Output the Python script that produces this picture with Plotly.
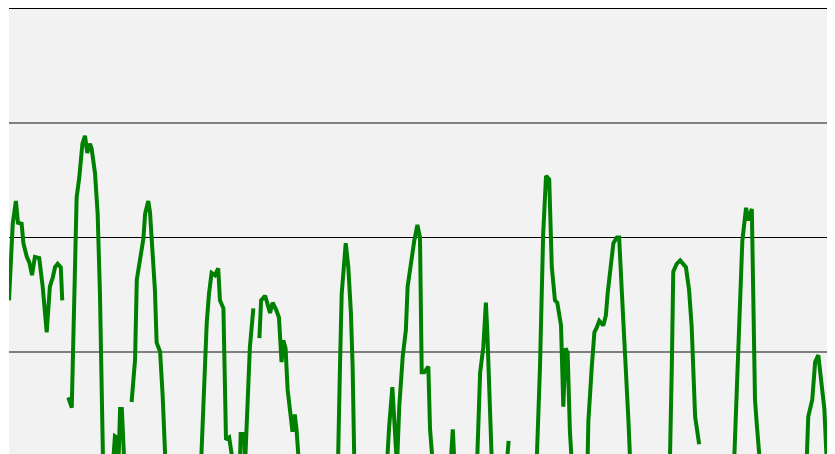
import plotly.graph_objects as go

# hours (x) and values (y) for each continuous run of the series
hours_1 = [0.0, 1.3, 2.4, 3.1, 4.4, 5.0, 6.2, 7.1, 8.0, 9.0, 10.5, 11.7, 13.1, 14.2, 15.2, 16.0, 16.9, 18.0, 18.5]
values_1 = [14.5, 21.2, 23.2, 21.3, 21.2, 19.5, 18.3, 17.8, 16.7, 18.3, 18.2, 15.7, 11.7, 15.7, 16.5, 17.4, 17.7, 17.4, 14.5]

hours_2 = [20.6, 21.8, 23.5, 24.4, 25.5, 26.4, 27.2, 28.1, 28.7, 29.9, 30.8, 31.6, 32.7, 36.1, 36.8, 37.4, 38.0, 38.6, 39.2, 40.1]
values_2 = [6.0, 5.1, 23.5, 25.2, 28.2, 28.9, 27.4, 28.2, 27.8, 25.6, 22.1, 15.1, 0, 0, 2.6, 2.5, 0, 5.0, 5.0, 0]

hours_3 = [42.6, 43.8, 44.4, 45.5, 46.7, 47.3, 48.4, 49.0, 49.9, 50.7, 51.3, 52.5, 53.4, 54.4, 66.7, 67.8,
           68.7, 69.5, 70.4, 71.6, 72.7, 73.3, 74.5, 75.4, 76.5, 78.0, 80.2, 80.5, 81.7, 82.0, 83.7, 84.9]
values_3 = [5.6, 9.3, 16.3, 18.3, 19.9, 22.1, 23.2, 22.2, 18.6, 15.4, 10.8, 10.0, 6.1, 0, 0, 7.6,
            12.5, 15.1, 16.9, 16.7, 17.3, 14.5, 13.8, 2.3, 2.5, 0, 0, 2.8, 2.8, 0, 10.4, 13.8]

hours_4 = [87.0, 87.6, 89.0, 90.7, 91.6, 92.8, 93.8, 94.7, 95.3, 96.1, 96.8, 97.5, 98.5, 99.3, 99.9, 100.8,
           114.3, 115.0, 115.6, 117.0, 117.9, 118.8, 119.4, 120.0, 131.3, 132.1, 133.2, 134.8, 135.6, 136.8,
           137.9, 138.5, 139.7, 140.8, 141.9, 142.8, 143.4, 144.3, 145.7, 146.3, 147.3, 153.4, 154.2, 154.8,
           162.6, 163.7, 164.8, 165.7, 166.2, 166.9, 167.8, 172.9, 173.6]
values_4 = [11.2, 14.5, 14.9, 13.4, 14.3, 13.7, 13.0, 9.1, 11.0, 10.3, 6.7, 4.8, 3.0, 4.5, 3.2, 0,
            0, 8.7, 15.1, 19.5, 17.4, 13.4, 8.7, 0, 0, 3.5, 6.9, 0, 5.2, 9.6,
            11.9, 15.7, 18.0, 19.7, 21.1, 20.0, 8.2, 8.2, 8.7, 3.2, 0, 0, 3.2, 0,
            0, 8.2, 10.4, 14.3, 11.7, 5.8, 0, 0, 2.2]

hours_5 = [183.3, 184.5, 185.6, 186.6, 187.7, 188.6, 189.7, 190.5, 191.8, 192.6, 193.4, 194.1, 194.9, 195.6,
           201.0, 201.3, 202.5, 203.4, 204.2, 205.1, 206.5, 207.4, 208.0, 208.8, 210.0, 211.2, 212.0, 212.9,
           213.8, 214.6, 215.2, 215.9, 229.6, 230.3, 230.8, 232.0, 233.2, 235.2, 236.3, 237.2, 238.4, 239.8]
values_5 = [0, 8.7, 20.3, 25.4, 25.1, 17.4, 14.5, 14.3, 12.3, 5.2, 10.3, 9.9, 3.0, 0,
            0, 3.9, 8.7, 11.7, 12.1, 12.7, 12.3, 13.2, 15.1, 16.9, 19.5, 20.0, 20.0, 15.4,
            11.0, 8.2, 4.1, 0, 0, 8.7, 17.0, 17.7, 18.0, 17.4, 15.4, 12.2, 4.3, 1.9]

hours_6 = [251.9, 252.9, 254.0, 254.8, 256.1, 256.9, 258.1, 258.6, 259.2, 259.8, 261.0,
           277.1, 277.7, 279.1, 280.1, 281.2, 282.1, 283.3, 284.2, 287.0]
values_6 = [0, 7.6, 13.9, 19.7, 22.6, 21.5, 22.5, 14.5, 5.8, 3.7, 0,
            0, 4.3, 5.8, 9.1, 9.7, 7.8, 5.0, 0, 0]

segments = [(hours_1, values_1), (hours_2, values_2), (hours_3, values_3),
            (hours_4, values_4), (hours_5, values_5), (hours_6, values_6)]

fig = go.Figure()
for hx, vy in segments:
    fig.add_trace(go.Scatter(x=hx, y=vy, mode="lines",
                             line=dict(color="#008000", width=4),
                             hoverinfo="skip", showlegend=False))

fig.update_layout(
    width=827, height=458,
    margin=dict(l=1, r=0, t=1, b=0),
    paper_bgcolor="white",
    plot_bgcolor="#f2f2f2",
    showlegend=False,
    xaxis=dict(range=[0, 287], showgrid=False, zeroline=False, showticklabels=False,
               ticks="", showline=True, mirror=True, linecolor="#000000", linewidth=1),
    yaxis=dict(range=[0, 40], tick0=0, dtick=20, showgrid=True, gridcolor="#000000", gridwidth=1,
               zeroline=False, showticklabels=False, ticks="",
               minor=dict(tick0=0, dtick=10, showgrid=True, gridcolor="#808080", gridwidth=2)),
)

fig.write_html("out.html")
